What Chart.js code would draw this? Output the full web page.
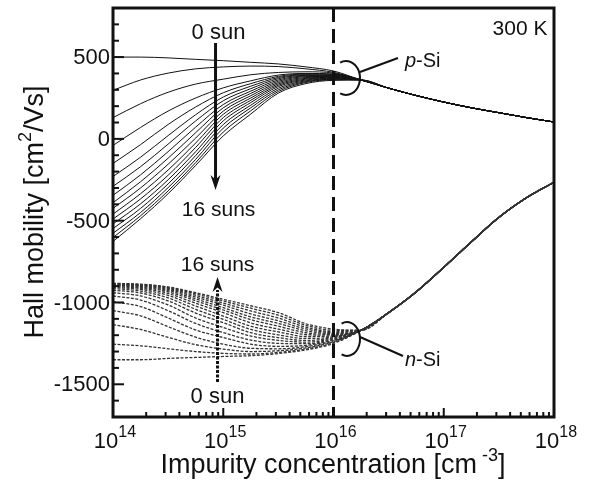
<!DOCTYPE html>
<html>
<head>
<meta charset="utf-8">
<script src="https://cdn.jsdelivr.net/npm/chart.js@4/dist/chart.umd.min.js"></script>
<style>
html,body{margin:0;padding:0;background:#fff;}
#wrap{width:592px;height:481px;position:relative;}
</style>
</head>
<body>
<div id="wrap"><canvas id="c" width="592" height="481"></canvas></div>
<script>
// ---- data (log10 of impurity concentration, cm^-3) ----
const headLogN = [14, 14.25, 14.5, 14.75, 15, 15.25, 15.5, 15.75, 16];
const tailLogN = [16.25, 16.5, 16.75, 17, 17.25, 17.5, 17.75, 18];
const suns = [0,1,2,3,4,5,6,7,8,9,10,11,12,13,14,15,16];

// p-Si Hall mobility (cm2/Vs), one row per illumination level (0..16 suns)
const pSiHead = [
  [500, 500, 495, 486, 478, 468, 458, 440, 415],
  [297, 360, 402, 428, 440, 445, 442, 428, 407],
  [130, 215, 285, 335, 365, 392, 406, 410, 402],
  [-40, 70, 170, 250, 312, 355, 390, 400, 397],
  [-150, -35, 88, 195, 282, 338, 382, 396, 394],
  [-230, -112, 20, 148, 256, 322, 375, 392, 391],
  [-290, -170, -32, 110, 233, 307, 368, 388, 388],
  [-345, -220, -78, 72, 210, 292, 360, 384, 385],
  [-390, -262, -118, 38, 190, 278, 352, 380, 382],
  [-425, -300, -155, 5, 170, 264, 344, 375, 379],
  [-460, -335, -190, -25, 150, 250, 336, 370, 376],
  [-490, -367, -222, -52, 130, 236, 328, 365, 373],
  [-520, -397, -250, -78, 110, 222, 320, 360, 370],
  [-548, -425, -275, -102, 88, 206, 310, 355, 367],
  [-577, -450, -298, -125, 66, 190, 300, 350, 364],
  [-603, -470, -318, -145, 42, 172, 290, 345, 361],
  [-627, -488, -335, -162, 18, 152, 280, 338, 358]
];
const pSiTail = [360, 310, 265, 225, 190, 160, 130, 103];

// n-Si Hall mobility (cm2/Vs), one row per illumination level (0..16 suns)
const nSiHead = [
  [-1350, -1350, -1342, -1336, -1330, -1325, -1312, -1290, -1250],
  [-1255, -1265, -1283, -1300, -1311, -1315, -1305, -1285, -1245],
  [-1135, -1165, -1213, -1258, -1285, -1300, -1295, -1278, -1240],
  [-1050, -1082, -1148, -1212, -1255, -1280, -1283, -1270, -1235],
  [-995, -1025, -1095, -1168, -1214, -1255, -1268, -1262, -1230],
  [-960, -985, -1050, -1128, -1184, -1230, -1250, -1252, -1225],
  [-940, -960, -1015, -1095, -1153, -1205, -1232, -1242, -1220],
  [-925, -942, -990, -1065, -1123, -1185, -1215, -1232, -1215],
  [-915, -930, -972, -1042, -1103, -1165, -1198, -1220, -1210],
  [-908, -920, -957, -1022, -1083, -1145, -1180, -1208, -1205],
  [-902, -913, -945, -1005, -1062, -1125, -1163, -1196, -1200],
  [-897, -907, -935, -990, -1046, -1105, -1145, -1185, -1195],
  [-893, -902, -927, -978, -1032, -1088, -1128, -1173, -1190],
  [-890, -898, -920, -967, -1016, -1070, -1112, -1162, -1184],
  [-887, -894, -914, -957, -1004, -1052, -1095, -1151, -1178],
  [-885, -891, -909, -948, -991, -1035, -1078, -1140, -1170],
  [-883, -888, -905, -940, -981, -1020, -1062, -1130, -1163]
];
const nSiTail = [-1170, -1062, -935, -785, -630, -480, -360, -265];

const yTickLabels = [500, 0, -500, -1000, -1500];
const xTickExponents = [14, 15, 16, 17, 18];
const boundaryN = 1e16;

// ---- build datasets ----
const allLog = headLogN.concat(tailLogN);
function toPoints(head, tail) {
  const ys = head.concat(tail);
  return allLog.map((l, i) => ({x: Math.pow(10, l), y: ys[i]}));
}
const datasets = [];
suns.forEach((s, i) => {
  datasets.push({
    label: 'p-Si ' + s + ' sun',
    data: toPoints(pSiHead[i], pSiTail),
    borderColor: '#111', borderWidth: 1, pointRadius: 0,
    cubicInterpolationMode: 'monotone', fill: false
  });
});
suns.forEach((s, i) => {
  datasets.push({
    label: 'n-Si ' + s + ' sun',
    data: toPoints(nSiHead[i], nSiTail),
    borderColor: '#333', borderWidth: 1.3, borderDash: [3, 1.5], pointRadius: 0,
    cubicInterpolationMode: 'monotone', fill: false
  });
});

const FONT = '"Liberation Sans", Arial, Helvetica, sans-serif';

function textWithSup(ctx, parts, x, y, align) {
  let w = 0;
  parts.forEach(p => { ctx.font = (p.italic ? 'italic ' : '') + p.size + 'px ' + FONT; w += ctx.measureText(p.t).width; });
  let cx = align === 'center' ? x - w / 2 : (align === 'right' ? x - w : x);
  ctx.textAlign = 'left';
  ctx.textBaseline = 'alphabetic';
  parts.forEach(p => {
    ctx.font = (p.italic ? 'italic ' : '') + p.size + 'px ' + FONT;
    ctx.fillText(p.t, cx, y - (p.sup || 0));
    cx += ctx.measureText(p.t).width;
  });
}

function arrowHead(ctx, x, y, dir, hw, len) {
  ctx.beginPath();
  ctx.moveTo(x, y);
  ctx.lineTo(x - hw, y - dir * len);
  ctx.lineTo(x, y - dir * len * 0.7);
  ctx.lineTo(x + hw, y - dir * len);
  ctx.closePath();
  ctx.fill();
}

const decor = {
  id: 'decor',
  afterDatasetsDraw(chart) {
    const ctx = chart.ctx, ca = chart.chartArea;
    const xs = chart.scales.x, ys = chart.scales.y;
    ctx.save();
    ctx.fillStyle = '#111';
    ctx.strokeStyle = '#111';

    // dashed boundary line at 1e16
    const bx = xs.getPixelForValue(boundaryN);
    ctx.setLineDash([14, 7]);
    ctx.lineWidth = 3;
    ctx.beginPath(); ctx.moveTo(bx, ca.top); ctx.lineTo(bx, ca.bottom); ctx.stroke();
    ctx.setLineDash([]);

    // frame
    ctx.lineWidth = 3;
    ctx.strokeRect(ca.left, ca.top, ca.right - ca.left, ca.bottom - ca.top);

    // y ticks (inside)
    ctx.lineWidth = 2;
    for (let v = -1700; v <= 800; v += 100) {
      const y = ys.getPixelForValue(v);
      const len = (v % 500 === 0) ? 11 : 6;
      ctx.beginPath(); ctx.moveTo(ca.left, y); ctx.lineTo(ca.left + len, y); ctx.stroke();
    }
    // x ticks (inside)
    for (let e = 14; e < 18; e++) {
      for (let m = 1; m <= 9; m++) {
        const x = xs.getPixelForValue(m * Math.pow(10, e));
        const len = m === 1 ? 9 : 5;
        ctx.beginPath(); ctx.moveTo(x, ca.bottom); ctx.lineTo(x, ca.bottom - len); ctx.stroke();
      }
    }

    // y tick labels
    ctx.font = '22px ' + FONT;
    ctx.textAlign = 'right';
    ctx.textBaseline = 'middle';
    yTickLabels.forEach(v => {
      ctx.fillText(String(v), ca.left - 3, ys.getPixelForValue(v) + 1);
    });
    // x tick labels
    xTickExponents.forEach(e => {
      const x = xs.getPixelForValue(Math.pow(10, e));
      textWithSup(ctx, [{t: '10', size: 22}, {t: String(e), size: 16, sup: 11}], x + 2, ca.bottom + 31, 'center');
    });

    // axis titles
    textWithSup(ctx, [{t: 'Impurity concentration [cm', size: 27}, {t: ' -3', size: 18, sup: 12}, {t: ']', size: 27}], 333, 473, 'center');
    ctx.save();
    ctx.translate(43, 212);
    ctx.rotate(-Math.PI / 2);
    textWithSup(ctx, [{t: 'Hall mobility [cm', size: 27}, {t: '2', size: 18, sup: 12}, {t: '/Vs]', size: 27}], 0, 0, 'center');
    ctx.restore();

    // 300 K
    textWithSup(ctx, [{t: '300 K', size: 21}], 520, 35, 'center');

    // p-Si arrow (solid)
    const ax = xs.getPixelForValue(Math.pow(10, 14.93));
    textWithSup(ctx, [{t: '0 sun', size: 22}], ax + 3, 39, 'center');
    ctx.lineWidth = 3;
    ctx.beginPath(); ctx.moveTo(ax, 43); ctx.lineTo(ax, 180); ctx.stroke();
    arrowHead(ctx, ax, 190, 1, 5, 15);
    textWithSup(ctx, [{t: '16 suns', size: 21}], ax + 3, 216, 'center');

    // n-Si arrow (dotted)
    const ax2 = ax + 2;
    textWithSup(ctx, [{t: '16 suns', size: 21}], ax2, 271, 'center');
    ctx.setLineDash([3, 1.5]);
    ctx.beginPath(); ctx.moveTo(ax2, 382); ctx.lineTo(ax2, 290); ctx.stroke();
    ctx.setLineDash([]);
    arrowHead(ctx, ax2, 277, -1, 5, 15);
    textWithSup(ctx, [{t: '0 sun', size: 22}], ax2, 403, 'center');

    // p-Si bracket + leader
    ctx.lineWidth = 2;
    ctx.beginPath(); ctx.ellipse(346, 78, 14, 17, 0, -2.0, 2.0); ctx.stroke();
    ctx.beginPath(); ctx.moveTo(360, 72); ctx.lineTo(398, 58); ctx.stroke();
    textWithSup(ctx, [{t: 'p', size: 20, italic: true}, {t: '-Si', size: 20}], 405, 67, 'left');

    // n-Si bracket + leader
    ctx.beginPath(); ctx.ellipse(347, 339, 13, 17, 0, -2.0, 2.0); ctx.stroke();
    ctx.beginPath(); ctx.moveTo(360, 337); ctx.lineTo(403, 356); ctx.stroke();
    textWithSup(ctx, [{t: 'n', size: 20, italic: true}, {t: '-Si', size: 20}], 405, 366, 'left');

    ctx.restore();
  }
};

new Chart(document.getElementById('c'), {
  type: 'line',
  data: {datasets},
  options: {
    responsive: false,
    animation: false,
    devicePixelRatio: 1,
    layout: {padding: {left: 113, top: 8, right: 38, bottom: 64}},
    plugins: {legend: {display: false}, tooltip: {enabled: false}},
    scales: {
      x: {type: 'logarithmic', min: 1e14, max: 1e18, display: false},
      y: {type: 'linear', min: -1700, max: 800, display: false}
    }
  },
  plugins: [decor]
});
</script>
</body>
</html>
